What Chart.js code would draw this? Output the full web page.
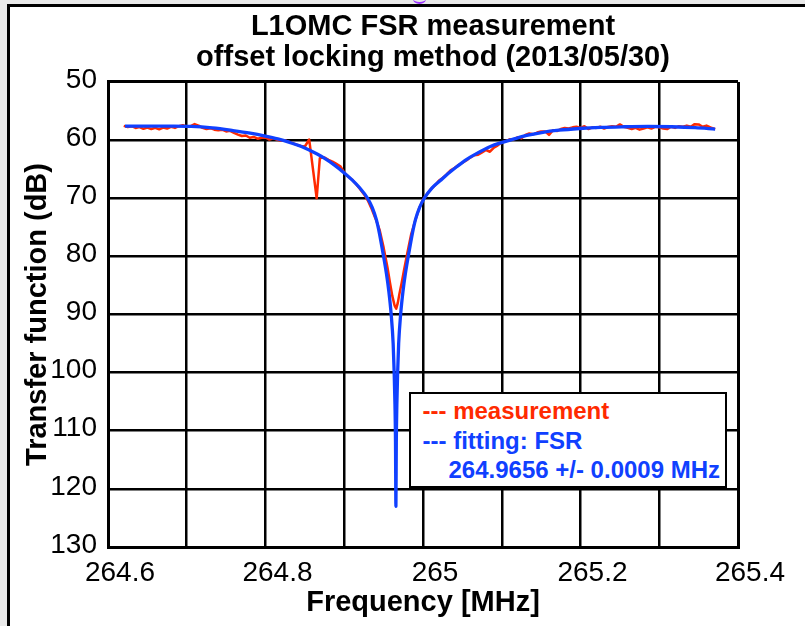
<!DOCTYPE html>
<html><head><meta charset="utf-8">
<script src="https://cdn.jsdelivr.net/npm/chart.js@4.4.1/dist/chart.umd.min.js"></script>
<style>
html,body{margin:0;padding:0;width:805px;height:626px;overflow:hidden;background:#e9e9e9;}
#frame{position:absolute;left:7px;top:4px;width:830px;height:650px;border-left:3px solid #000;border-top:3px solid #000;background:#fff;}
#blob{position:absolute;left:413px;top:-6px;width:13px;height:8px;border-bottom:2.5px solid #9b33ff;border-radius:50%;}
#c{position:absolute;left:0;top:0;}
#legend{position:absolute;left:409px;top:392px;width:318px;height:96px;box-sizing:border-box;border:2.5px solid #000;background:#fff;
  font:bold 24px 'Liberation Sans',Arial,Helvetica,sans-serif;line-height:29.5px;padding:2px 0 0 11.5px;white-space:nowrap;}
#legend .r{color:#ff2a00;}
#legend .b{color:#1040ff;}
#legend .ind{margin-left:26px;}
</style></head><body>
<div id="frame"></div>
<div id="blob"></div>
<canvas id="c" width="866" height="626"></canvas>
<div id="legend">
  <div class="r">--- measurement</div>
  <div class="b">--- fitting: FSR</div>
  <div class="b ind">264.9656 +/- 0.0009 MHz</div>
</div>
<script>
// ---- axis ticks ----
const xTickValues = [264.6, 264.7, 264.8, 264.9, 265.0, 265.1, 265.2, 265.3, 265.4];
const xTickLabels = ['264.6', '', '264.8', '', '265', '', '265.2', '', '265.4'];
const yTickValues = [50, 60, 70, 80, 90, 100, 110, 120, 130];
const yTickLabels = ['50', '60', '70', '80', '90', '100', '110', '120', '130'];

// ---- fitting curve (blue) ----
const fitFreq = [264.6216, 264.6456, 264.6756, 264.7056, 264.7326, 264.7586, 264.7806, 264.7996, 264.8156, 264.8306,
  264.8456, 264.8656, 264.8756, 264.8876, 264.8996, 264.9096, 264.9196, 264.9296, 264.9356, 264.9406,
  264.9446, 264.9486, 264.9536, 264.9566, 264.9596, 264.9621, 264.9634, 264.9644, 264.9651, 264.9656,
  264.9661, 264.9668, 264.9678, 264.9691, 264.9716, 264.9746, 264.9776, 264.9826, 264.9866, 264.9906,
  264.9956, 265.0016, 265.0116, 265.0216, 265.0316, 265.0436, 265.0556, 265.0656, 265.0856, 265.1006,
  265.1156, 265.1316, 265.1506, 265.1726, 265.1986, 265.2256, 265.2556, 265.2856, 265.3156, 265.3456, 265.3710];
const fitDb = [57.58, 57.58, 57.6, 57.65, 57.9, 58.35, 58.8, 59.3, 59.8, 60.4,
  61.1, 62.4, 63.2, 64.3, 65.6, 66.8, 68.2, 70.0, 71.6, 73.6,
  76.0, 79.0, 83.0, 86.0, 90.0, 95.0, 100.0, 105.5, 112.0, 123.0,
  112.0, 105.5, 100.0, 95.0, 90.0, 86.0, 83.0, 79.0, 76.0, 73.6,
  71.6, 70.0, 68.2, 67.0, 65.8, 64.5, 63.3, 62.5, 61.1, 60.4,
  59.8, 59.2, 58.7, 58.3, 58.0, 57.8, 57.7, 57.65, 57.7, 57.85, 58.1];

// ---- measurement (red) ----
const measFreq = [264.620, 264.625, 264.630, 264.635, 264.640, 264.645, 264.650, 264.655, 264.660, 264.665,
  264.670, 264.675, 264.680, 264.685, 264.690, 264.695, 264.700, 264.705, 264.710, 264.715,
  264.720, 264.725, 264.730, 264.735, 264.740, 264.745, 264.750, 264.755, 264.760, 264.765,
  264.770, 264.775, 264.780, 264.785, 264.790, 264.795, 264.800, 264.805, 264.810, 264.815,
  264.820, 264.825, 264.830, 264.835, 264.840, 264.845, 264.850, 264.8555, 264.865, 264.869,
  264.875, 264.880, 264.885, 264.890, 264.895, 264.900, 264.905, 264.910, 264.915, 264.920,
  264.925, 264.930, 264.935, 264.940, 264.945, 264.950, 264.955, 264.958, 264.961, 264.964,
  264.966, 264.968, 264.970, 264.973, 264.976, 264.980, 264.985, 264.990, 264.995, 265.000,
  265.005, 265.010, 265.015, 265.020, 265.025, 265.030, 265.035, 265.040, 265.045, 265.050,
  265.055, 265.060, 265.065, 265.070, 265.075, 265.080, 265.085, 265.090, 265.095, 265.100,
  265.105, 265.110, 265.115, 265.120, 265.125, 265.130, 265.135, 265.140, 265.145, 265.150,
  265.155, 265.160, 265.165, 265.170, 265.175, 265.180, 265.185, 265.190, 265.195, 265.200,
  265.205, 265.210, 265.215, 265.220, 265.225, 265.230, 265.235, 265.240, 265.245, 265.250,
  265.255, 265.260, 265.265, 265.270, 265.275, 265.280, 265.285, 265.290, 265.295, 265.300,
  265.305, 265.310, 265.315, 265.320, 265.325, 265.330, 265.335, 265.340, 265.345, 265.350,
  265.355, 265.360, 265.365, 265.371];
const measDb = [57.55, 57.75, 57.60, 57.90, 57.75, 58.05, 57.85, 58.10, 57.90, 58.15,
  57.85, 58.00, 57.70, 57.90, 57.60, 57.45, 57.70, 57.60, 57.25, 57.50,
  57.90, 58.10, 57.95, 58.20, 58.30, 58.20, 58.50, 58.40, 58.75, 59.05,
  59.30, 59.20, 59.60, 59.45, 59.75, 59.60, 59.55, 59.90, 59.70, 59.95,
  60.10, 60.05, 60.30, 60.55, 60.80, 61.00, 61.10, 59.90, 70.00, 63.10,
  63.00, 63.40, 63.70, 64.10, 64.50, 65.60, 66.30, 66.80, 67.60, 68.40,
  69.30, 70.40, 71.90, 73.60, 75.50, 78.50, 82.00, 84.50, 86.80, 88.50,
  89.00, 88.00, 86.50, 84.50, 82.30, 79.50, 76.20, 73.90, 71.80, 70.20,
  69.30, 68.40, 67.80, 67.00, 66.50, 65.90, 65.20, 64.80, 64.30, 63.90,
  63.50, 63.00, 62.60, 62.50, 62.10, 61.70, 62.00, 61.30, 60.90, 60.40,
  60.20, 59.85, 59.90, 59.50, 59.70, 59.10, 58.85, 59.00, 58.70, 58.50,
  58.50, 59.10, 58.30, 58.45, 58.10, 57.90, 58.00, 57.80, 57.70, 57.90,
  57.60, 58.10, 57.80, 57.90, 57.70, 58.00, 57.75, 57.60, 57.70, 57.30,
  57.70, 57.90, 58.10, 57.90, 58.20, 58.00, 57.80, 58.00, 57.70, 57.80,
  58.00, 58.10, 57.70, 57.90, 57.60, 57.70, 57.50, 57.70, 57.25, 57.30,
  57.70, 57.50, 57.80, 58.10];

const FONT = "'Liberation Sans', Arial, Helvetica, sans-serif";
const RED = '#ff2a00';
const BLUE = '#1040ff';

const fitData = fitFreq.map((x, i) => ({x: x, y: fitDb[i]}));
const measData = measFreq.map((x, i) => ({x: x, y: measDb[i]}));

const edgeWidth = (n) => (ctx) => (ctx.index === 0 || ctx.index === n - 1) ? 3 : 2.5;

new Chart(document.getElementById('c'), {
  type: 'line',
  data: {
    datasets: [
      {label: 'fitting', data: fitData, borderColor: BLUE, borderWidth: 3.3, pointRadius: 0,
       cubicInterpolationMode: 'monotone', borderJoinStyle: 'round', fill: false},
      {label: 'measurement', data: measData, borderColor: RED, borderWidth: 2.5, pointRadius: 0,
       tension: 0, borderJoinStyle: 'round', fill: false}
    ]
  },
  options: {
    responsive: false,
    animation: false,
    devicePixelRatio: 1,
    layout: {padding: 0},
    plugins: {
      legend: {display: false},
      tooltip: {enabled: false},
      title: {
        display: true,
        text: ['L1OMC FSR measurement', 'offset locking method (2013/05/30)'],
        color: '#000',
        font: {family: FONT, size: 29, weight: 'bold', lineHeight: 1.086},
        padding: {top: 11, bottom: 8}
      }
    },
    scales: {
      x: {
        type: 'linear', position: 'bottom', min: 264.6, max: 265.4,
        afterBuildTicks: (s) => { s.ticks = xTickValues.map(v => ({value: v})); },
        afterFit: (s) => { s.height = 79; },
        ticks: {autoSkip: false, maxRotation: 0, minRotation: 0, color: '#000', padding: 9, labelOffset: 12,
                font: {family: FONT, size: 28}, callback: (v, i) => xTickLabels[i]},
        grid: {color: '#000', lineWidth: edgeWidth(xTickValues.length), drawTicks: false},
        border: {color: '#000', width: 3},
        title: {display: true, text: 'Frequency [MHz]', color: '#000',
                font: {family: FONT, size: 29, weight: 'bold'}, padding: {top: 0, bottom: 6}}
      },
      y: {
        type: 'linear', position: 'left', min: 50, max: 130, reverse: true,
        afterBuildTicks: (s) => { s.ticks = yTickValues.map(v => ({value: v})); },
        afterFit: (s) => { s.width = 108; },
        ticks: {color: '#000', padding: 11, labelOffset: -2,
                font: {family: FONT, size: 28}, callback: (v, i) => yTickLabels[i]},
        grid: {color: '#000', lineWidth: edgeWidth(yTickValues.length), drawTicks: false},
        border: {color: '#000', width: 3},
        title: {display: true, text: 'Transfer function (dB)', color: '#000',
                font: {family: FONT, size: 29, weight: 'bold'}, padding: {top: 21, bottom: 0}}
      },
      yRight: {
        type: 'linear', position: 'right', display: true,
        afterFit: (s) => { s.width = 128; },
        ticks: {display: false},
        grid: {display: false, drawTicks: false},
        border: {display: false}
      }
    }
  }
});
</script>
</body></html>
